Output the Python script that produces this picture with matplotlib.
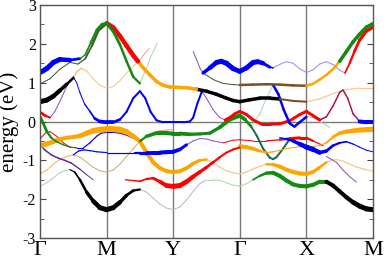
import matplotlib
matplotlib.use("Agg")
import matplotlib.pyplot as plt
from matplotlib.collections import LineCollection

plt.rcParams['font.family'] = ['Liberation Serif', 'DejaVu Serif']
plt.rcParams['axes.unicode_minus'] = False

# high-symmetry points along the path
kpoint_labels = ['Γ', 'M', 'Y', 'Γ', 'X', 'M']
kpoint_pos = [0, 1, 2, 3, 4, 5]

# ---- band pieces: k (path units), E (eV) ----
# upper bands
k_gm_blue_top = [0, 0.1, 0.2, 0.3, 0.45, 0.6]
e_gm_blue_top = [1.26, 1.36, 1.52, 1.6, 1.58, 1.62]
k_gm_green_top = [0.6, 0.68, 0.76, 0.85, 0.93, 1.0, 1.1, 1.2, 1.3, 1.4, 1.5]
e_gm_green_top = [1.62, 1.72, 2.02, 2.35, 2.5, 2.53, 2.32, 1.98, 1.55, 1.15, 0.98]
k_my_green_fade = [1.5, 1.58, 1.66, 1.76]
e_my_green_fade = [0.98, 1.3, 1.65, 2.02]
k_gm_dkgreen = [0, 0.15, 0.3, 0.45, 0.57, 0.68, 0.78, 0.88, 1.0]
e_gm_dkgreen = [0.97, 1.1, 1.35, 1.52, 1.48, 1.62, 1.95, 2.35, 2.53]
k_my_red_top = [1.0, 1.1, 1.2, 1.3, 1.4, 1.47]
e_my_red_top = [2.53, 2.42, 2.2, 1.95, 1.7, 1.55]
k_my_orange = [1.47, 1.55, 1.65, 1.75, 1.85, 1.95, 2.05, 2.2, 2.35]
e_my_orange = [1.55, 1.38, 1.2, 1.03, 0.93, 0.89, 0.88, 0.87, 0.83]
k_yg_black = [2.35, 2.5, 2.65, 2.8, 2.9, 3.0, 3.15, 3.3, 3.45, 3.6]
e_yg_black = [0.83, 0.78, 0.7, 0.6, 0.54, 0.51, 0.56, 0.6, 0.6, 0.58]
k_gx_brown = [3.6, 3.8, 4.0]
e_gx_brown = [0.58, 0.53, 0.51]
k_xm_paleorange = [4.0, 4.2, 4.4, 4.6, 4.8, 5.0]
e_xm_paleorange = [0.51, 0.58, 0.72, 0.82, 0.86, 0.86]
k_gm_black = [0, 0.1, 0.2, 0.3, 0.4, 0.5]
e_gm_black = [0.51, 0.55, 0.65, 0.8, 0.96, 1.12]
k_gm_paleorange = [0.5, 0.56, 0.62, 0.7, 0.8, 0.9, 1.0, 1.1, 1.2, 1.3, 1.4, 1.48]
e_gm_paleorange = [1.12, 1.3, 1.37, 1.3, 1.1, 0.93, 0.86, 0.9, 1.05, 1.25, 1.42, 1.55]
k_my_red_fade = [1.48, 1.56, 1.64]
e_my_red_fade = [1.55, 1.72, 1.88]
k_gm_red_low = [0, 0.08, 0.15]
e_gm_red_low = [0.24, 0.15, 0.1]
k_gm_purple = [0.15, 0.22, 0.31, 0.4, 0.5]
e_gm_purple = [0.1, 0.25, 0.56, 0.9, 1.15]
k_gm_blue_mid = [0.5, 0.55, 0.6, 0.67, 0.75, 0.82, 0.9, 1.0, 1.1, 1.2]
e_gm_blue_mid = [1.15, 1.0, 0.74, 0.45, 0.26, 0.08, 0.0, -0.02, -0.02, 0.05]
k_my_blue = [1.2, 1.3, 1.4, 1.5, 1.58, 1.66, 1.75, 1.85, 2.0, 2.15, 2.25, 2.3, 2.36, 2.43]
e_my_blue = [0.05, 0.25, 0.6, 0.78, 0.6, 0.25, 0.03, -0.02, -0.02, -0.02, 0.0, 0.1, 0.45, 0.77]
k_yg_purple = [2.43, 2.5, 2.6, 2.7, 2.78]
e_yg_purple = [0.77, 0.6, 0.3, 0.1, 0.04]
k_gx_red = [2.78, 2.85, 2.93, 3.0, 3.1, 3.2, 3.33, 3.45, 3.6, 3.75, 3.9, 4.0, 4.1, 4.2]
e_gx_red = [0.04, 0.1, 0.2, 0.26, 0.18, 0.04, -0.07, -0.07, -0.06, 0.02, 0.18, 0.26, 0.15, 0.04]
k_xm_crimson = [4.2, 4.3, 4.4, 4.5, 4.55, 4.62, 4.7, 4.8]
e_xm_crimson = [0.04, 0.12, 0.4, 0.75, 0.81, 0.6, 0.2, 0.0]
k_xm_blue = [4.8, 4.9, 5.0]
e_xm_blue = [0.0, -0.02, -0.02]
k_mg_green = [1.5, 1.6, 1.75, 1.9, 2.0, 2.1, 2.25, 2.4, 2.55, 2.7, 2.85, 3.0, 3.08, 3.17]
e_mg_green = [-0.51, -0.38, -0.3, -0.3, -0.31, -0.31, -0.33, -0.32, -0.3, -0.15, 0.05, 0.15, 0.05, -0.13]
k_gx_palegreen = [3.17, 3.3, 3.4, 3.5]
e_gx_palegreen = [-0.13, 0.2, 0.6, 0.94]
k_gx_blue = [3.5, 3.58, 3.66, 3.75, 3.82, 3.9, 4.0]
e_gx_blue = [0.94, 0.7, 0.3, -0.05, -0.13, -0.02, 0.12]
k_xm_palegreen = [4.0, 4.1, 4.2, 4.35]
e_xm_palegreen = [0.12, 0.1, 0.0, -0.15]
k_yg_purple_top = [2.3, 2.35, 2.4, 2.45]
e_yg_purple_top = [1.8, 1.6, 1.38, 1.25]
k_gx_blue_wave = [2.45, 2.55, 2.65, 2.72, 2.8, 2.9, 3.0, 3.1, 3.2, 3.27, 3.35, 3.45, 3.5]
e_gx_blue_wave = [1.25, 1.38, 1.52, 1.55, 1.5, 1.36, 1.29, 1.38, 1.52, 1.54, 1.5, 1.4, 1.38]
k_xm_paleblue = [3.5, 3.6, 3.7, 3.8, 3.9, 4.0, 4.1, 4.2, 4.3, 4.4, 4.5, 4.58]
e_xm_paleblue = [1.38, 1.47, 1.54, 1.5, 1.36, 1.26, 1.33, 1.48, 1.54, 1.47, 1.32, 1.25]
k_xm_red_top = [4.58, 4.65, 4.72, 4.8, 4.9, 5.0]
e_xm_red_top = [1.25, 1.5, 1.8, 2.1, 2.33, 2.43]
k_yg_dkgreen = [2.45, 2.6, 2.75, 2.9, 3.0]
e_yg_dkgreen = [1.25, 1.08, 0.98, 0.95, 0.94]
k_gx_brown_top = [3.0, 3.2, 3.4, 3.6, 3.8, 4.0]
e_gx_brown_top = [0.94, 0.95, 0.96, 0.95, 0.93, 0.92]
k_xm_orange_top = [4.0, 4.1, 4.2, 4.3, 4.4, 4.5]
e_xm_orange_top = [0.92, 0.97, 1.08, 1.2, 1.35, 1.55]
k_xm_green_top = [4.5, 4.6, 4.7, 4.8, 4.9, 5.0]
e_xm_green_top = [1.55, 1.8, 2.05, 2.25, 2.43, 2.52]

# lower bands
k_gm_green_low = [0, 0.05, 0.1, 0.17, 0.25, 0.35, 0.45, 0.55]
e_gm_green_low = [0.12, -0.05, -0.25, -0.42, -0.52, -0.6, -0.66, -0.68]
k_gm_purple_low = [0, 0.07, 0.17, 0.27, 0.37, 0.47, 0.6, 0.7, 0.8]
e_gm_purple_low = [-0.6, -0.73, -0.86, -0.94, -1.0, -1.07, -1.23, -1.37, -1.5]
k_gm_red_thin = [0, 0.08, 0.15, 0.25, 0.35, 0.45, 0.55]
e_gm_red_thin = [-0.45, -0.3, -0.26, -0.38, -0.55, -0.66, -0.68]
k_mm_blue_thin = [0.55, 0.65, 0.75, 0.85, 0.92, 1.0, 1.1, 1.2, 1.3, 1.4, 1.5]
e_mm_blue_thin = [-0.68, -0.68, -0.55, -0.38, -0.3, -0.28, -0.28, -0.3, -0.35, -0.43, -0.51]
k_gm_orange_thin = [0, 0.1, 0.2, 0.3, 0.4, 0.5]
e_gm_orange_thin = [-1.35, -1.25, -1.1, -0.97, -0.9, -0.86]
k_gm_tan = [0.5, 0.6, 0.7, 0.8, 0.9, 1.0, 1.1, 1.2, 1.3, 1.4, 1.5, 1.6, 1.7, 1.8, 1.9, 2.0]
e_gm_tan = [-0.86, -0.92, -1.05, -1.18, -1.27, -1.3, -1.25, -1.1, -0.9, -0.7, -0.51, -0.38, -0.28, -0.24, -0.22, -0.21]
k_my_blue_low = [0.5, 0.58, 0.66, 0.75, 0.85, 1.0, 1.15, 1.3, 1.42]
e_my_blue_low = [-0.86, -0.76, -0.73, -0.75, -0.78, -0.8, -0.8, -0.8, -0.8]
k_yg_blue_thick = [1.42, 1.5, 1.6, 1.7, 1.8, 1.9, 2.0, 2.1, 2.2]
e_yg_blue_thick = [-0.8, -0.8, -0.8, -0.8, -0.8, -0.79, -0.78, -0.72, -0.6]
k_yg_purple_low = [2.2, 2.3, 2.4, 2.5, 2.6, 2.75]
e_yg_purple_low = [-0.6, -0.5, -0.44, -0.45, -0.5, -0.55]
k_gx_red_low = [2.75, 2.9, 3.0, 3.2, 3.4, 3.6, 3.75, 3.9, 4.0, 4.1, 4.25]
e_gx_red_low = [-0.55, -0.48, -0.47, -0.5, -0.5, -0.47, -0.44, -0.42, -0.42, -0.5, -0.62]
k_gm_orange_thick = [0, 0.1, 0.2, 0.3, 0.4, 0.5, 0.6, 0.7, 0.8, 0.9, 1.0, 1.1, 1.2, 1.3,
                     1.4, 1.5, 1.6, 1.7, 1.8, 1.9, 2.0, 2.1, 2.2, 2.3, 2.4, 2.5]
e_gm_orange_thick = [-0.62, -0.58, -0.52, -0.46, -0.42, -0.4, -0.37, -0.3, -0.24, -0.21, -0.2, -0.2, -0.21, -0.27,
                     -0.38, -0.51, -0.8, -1.05, -1.2, -1.28, -1.3, -1.28, -1.2, -1.08, -1.0, -0.98]
k_yg_orange_pale = [2.5, 2.6, 2.7, 2.8, 2.9, 3.0, 3.1, 3.2, 3.3, 3.4]
e_yg_orange_pale = [-0.98, -1.05, -1.18, -1.27, -1.32, -1.35, -1.3, -1.22, -1.15, -1.1]
k_gx_orange_thick = [3.4, 3.5, 3.6, 3.7, 3.8, 3.9, 4.0, 4.1, 4.2, 4.3]
e_gx_orange_thick = [-1.1, -1.11, -1.16, -1.24, -1.3, -1.34, -1.35, -1.3, -1.18, -1.05]
k_xm_orange_pale = [4.3, 4.4, 4.45, 4.55, 4.65, 4.75, 4.85, 5.0]
e_xm_orange_pale = [-1.05, -0.99, -0.98, -1.02, -1.1, -1.17, -1.22, -1.28]
k_xm_purple = [4.3, 4.35, 4.45, 4.55, 4.65, 4.75]
e_xm_purple = [-0.9, -0.95, -1.05, -1.25, -1.42, -1.56]
k_gx_orange_mid = [3.0, 3.1, 3.2, 3.3, 3.4, 3.5, 3.6, 3.7, 3.8, 3.9, 4.0]
e_gx_orange_mid = [-0.64, -0.66, -0.7, -0.76, -0.8, -0.78, -0.74, -0.7, -0.67, -0.65, -0.64]
k_xm_orange_mid = [4.0, 4.1, 4.2, 4.3, 4.4, 4.5, 4.6, 4.7, 4.8, 4.9, 5.0]
e_xm_orange_mid = [-0.64, -0.64, -0.62, -0.55, -0.4, -0.3, -0.26, -0.24, -0.22, -0.21, -0.2]
k_my_red_thick = [1.28, 1.4, 1.5, 1.6, 1.7, 1.8, 1.9, 2.0, 2.1, 2.2, 2.3, 2.4, 2.5, 2.6, 2.7, 2.8, 2.9, 3.0]
e_my_red_thick = [-1.5, -1.52, -1.54, -1.48, -1.46, -1.55, -1.65, -1.67, -1.65, -1.55, -1.42, -1.3,
                  -1.18, -1.05, -0.92, -0.8, -0.72, -0.67]
k_gm_palegreen = [0, 0.1, 0.2, 0.3, 0.38, 0.45]
e_gm_palegreen = [-1.67, -1.58, -1.45, -1.32, -1.26, -1.24]
k_gm_black_low = [0.45, 0.52, 0.6, 0.7, 0.8, 0.9, 1.0, 1.1, 1.2, 1.3, 1.4, 1.5]
e_gm_black_low = [-1.24, -1.3, -1.5, -1.82, -2.05, -2.22, -2.27, -2.22, -2.08, -1.9, -1.78, -1.75]
k_yg_gray = [1.5, 1.6, 1.7, 1.8, 1.9, 2.0, 2.1, 2.2, 2.3, 2.4, 2.5]
e_yg_gray = [-1.75, -1.82, -1.98, -2.12, -2.23, -2.27, -2.2, -2.02, -1.8, -1.6, -1.5]
k_yg_palegreen = [2.5, 2.6, 2.7, 2.8, 2.9, 3.0, 3.1, 3.2]
e_yg_palegreen = [-1.5, -1.5, -1.52, -1.58, -1.64, -1.67, -1.6, -1.5]
k_gx_green_low = [3.2, 3.3, 3.4, 3.5, 3.6, 3.7, 3.8, 3.9, 4.0, 4.1, 4.2, 4.3]
e_gx_green_low = [-1.5, -1.4, -1.33, -1.32, -1.4, -1.52, -1.62, -1.66, -1.67, -1.63, -1.55, -1.55]
k_xm_black_low = [4.3, 4.4, 4.5, 4.6, 4.7, 4.8, 4.9, 5.0]
e_xm_black_low = [-1.55, -1.65, -1.8, -1.95, -2.08, -2.18, -2.25, -2.27]
k_gx_teal = [3.17, 3.25, 3.35, 3.45, 3.5, 3.55, 3.65, 3.75]
e_gx_teal = [-0.13, -0.35, -0.7, -0.93, -0.97, -0.92, -0.7, -0.45]
k_xm_blue_thick = [3.6, 3.7, 3.8, 3.9, 4.0, 4.1, 4.2, 4.3, 4.4, 4.5, 4.6, 4.7, 4.8, 4.9, 5.0]
e_xm_blue_thick = [-0.42, -0.45, -0.5, -0.58, -0.66, -0.72, -0.8, -0.76, -0.62, -0.55, -0.52, -0.58, -0.66, -0.74, -0.78]

# ---- styles ----
BLUE = '#0000ff'
RED = '#ff0000'
GREEN = '#138a13'
ORANGE = '#ffa500'
BLACK = '#000000'
PURPLE = '#8a50c0'
DKPURPLE = '#5a2aa0'
PALE_ORANGE = '#f8c888'
PALE_GREEN = '#a8d8a8'
PALE_BLUE = '#9090ff'
TAN = '#d0a878'
GRAY = '#bbbbbb'
DKGREEN = '#3c5c28'
BROWN = '#7a5020'
CRIMSON = '#b01050'
TEAL = '#1a6a5a'

# (k, E, colour, width in px - scalar or one per point)
pieces = [
    (k_gm_palegreen, e_gm_palegreen, PALE_GREEN, 1),
    (k_yg_gray, e_yg_gray, GRAY, 1),
    (k_yg_palegreen, e_yg_palegreen, PALE_GREEN, 1),
    (k_yg_orange_pale, e_yg_orange_pale, PALE_ORANGE, 1.2),
    (k_xm_orange_pale, e_xm_orange_pale, PALE_ORANGE, 1.2),
    (k_xm_purple, e_xm_purple, PURPLE, 1),
    (k_gm_orange_thin, e_gm_orange_thin, '#f5b850', 1),
    (k_gm_tan, e_gm_tan, TAN, 1),
    (k_xm_paleorange, e_xm_paleorange, PALE_ORANGE, 1.2),
    (k_gm_paleorange, e_gm_paleorange, PALE_ORANGE, [2, 1.5, 1.5, 1.2, 1, 1, 1, 1, 1, 1, 1, 1]),
    (k_my_red_fade, e_my_red_fade, '#f4a0a0', 1),
    (k_my_green_fade, e_my_green_fade, PALE_GREEN, 1),
    (k_xm_paleblue, e_xm_paleblue, PALE_BLUE, 1),
    (k_gx_palegreen, e_gx_palegreen, PALE_GREEN, 1),
    (k_xm_palegreen, e_xm_palegreen, PALE_GREEN, 1),
    (k_yg_purple_top, e_yg_purple_top, PURPLE, 1),
    (k_yg_dkgreen, e_yg_dkgreen, DKGREEN, 1),
    (k_gm_purple, e_gm_purple, PURPLE, 1),
    (k_yg_purple, e_yg_purple, PURPLE, 1),
    (k_yg_purple_low, e_yg_purple_low, PURPLE, 1),
    (k_gm_purple_low, e_gm_purple_low, DKPURPLE, [1.5, 1.5, 1.5, 1.5, 1.5, 1.5, 1.2, 1, 0.8]),
    (k_gm_red_thin, e_gm_red_thin, RED, 1),
    (k_mm_blue_thin, e_mm_blue_thin, BLUE, 1.2),
    (k_my_blue_low, e_my_blue_low, BLUE, 1.2),
    (k_gx_red_low, e_gx_red_low, RED, [1, 1, 1, 1, 1, 1.5, 3, 3, 3, 1.5, 1]),
    (k_gx_teal, e_gx_teal, TEAL, 2),
    (k_gx_orange_mid, e_gx_orange_mid, ORANGE, [4, 4, 3.5, 3, 1.5, 1, 1, 1, 1, 1, 1]),
    (k_xm_orange_mid, e_xm_orange_mid, ORANGE, [1, 1, 1, 1.5, 2.5, 3.5, 4, 4.5, 5, 5, 5]),
    (k_xm_blue_thick, e_xm_blue_thick, BLUE, [1, 2, 3, 4, 5, 5, 4, 3, 2.5, 2, 1.5, 1.2, 1, 1, 1]),
    (k_gx_orange_thick, e_gx_orange_thick, ORANGE, [2, 3, 4, 4, 4, 4, 4, 3.5, 3, 2]),
    (k_gm_orange_thick, e_gm_orange_thick, ORANGE,
     [5, 5, 4.5, 4, 4, 4, 4.5, 5, 5.5, 6, 6, 6, 6, 5.5, 4.5, 4, 4, 4, 4, 4, 4, 4, 3.5, 3.5, 3, 2]),
    (k_yg_blue_thick, e_yg_blue_thick, BLUE, [1.5, 3, 3.5, 4, 4, 4, 4, 3.5, 2.5]),
    (k_my_red_thick, e_my_red_thick, RED,
     [1, 1.5, 1.5, 2, 2.5, 3.5, 4.5, 5, 5, 4.5, 4, 3.5, 3, 2.5, 2, 2, 2, 2]),
    (k_gm_black_low, e_gm_black_low, BLACK, [1, 1.5, 2, 3, 4, 5, 5, 5, 4, 3, 2.5, 2]),
    (k_gx_green_low, e_gx_green_low, GREEN, [1.5, 2, 3, 4, 4, 4, 4, 4, 4, 4, 4, 4]),
    (k_xm_black_low, e_xm_black_low, BLACK, [4, 4, 4, 4, 4.5, 5, 5, 5]),
    (k_gm_green_low, e_gm_green_low, GREEN, [3, 3, 2.5, 2, 1.5, 1.5, 1, 1]),
    (k_mg_green, e_mg_green, GREEN, [1.5, 3, 4, 4, 4, 4, 3.5, 3, 3, 3.5, 4, 4, 3.5, 2]),
    (k_gx_red, e_gx_red, RED, 3),
    (k_xm_crimson, e_xm_crimson, CRIMSON, 1.5),
    (k_gx_blue, e_gx_blue, BLUE, 2.5),
    (k_my_blue, e_my_blue, BLUE, 2),
    (k_gm_blue_mid, e_gm_blue_mid, BLUE, [1, 1, 1, 1.2, 1.5, 2, 3.5, 4, 3.5, 2]),
    (k_xm_blue, e_xm_blue, BLUE, 4),
    (k_gm_red_low, e_gm_red_low, RED, [3, 2.5, 1.5]),
    (k_gm_dkgreen, e_gm_dkgreen, DKGREEN, [1, 1, 1, 1, 1, 1.5, 2, 2.5, 3]),
    (k_gm_black, e_gm_black, BLACK, [5, 5, 4.5, 4, 3, 2]),
    (k_yg_black, e_yg_black, BLACK, 3.5),
    (k_gx_brown, e_gx_brown, BROWN, 2),
    (k_gx_brown_top, e_gx_brown_top, BROWN, 2.5),
    (k_my_orange, e_my_orange, ORANGE, 3.5),
    (k_xm_orange_top, e_xm_orange_top, ORANGE, 2.5),
    (k_gx_blue_wave, e_gx_blue_wave, BLUE, [3, 4, 5, 5, 5, 5, 4.5, 5, 5, 5, 4, 2, 1]),
    (k_gm_blue_top, e_gm_blue_top, BLUE, [5, 5, 5, 5, 4, 1.5]),
    (k_my_red_top, e_my_red_top, RED, 4.5),
    (k_xm_red_top, e_xm_red_top, RED, [1.5, 2, 2.5, 3, 3.5, 3.5]),
    (k_gm_green_top, e_gm_green_top, GREEN, [1, 1.5, 2, 2.5, 3, 3, 3, 2.5, 2.5, 2.5, 2]),
    (k_xm_green_top, e_xm_green_top, GREEN, 3.5),
]

PX = 72 / 100  # points per pixel at dpi 100

fig = plt.figure(figsize=(3.9, 2.67), dpi=100)
ax = fig.add_axes([40 / 390, 1 - 238 / 267, 333 / 390, 233 / 267])

# guide lines
for x in kpoint_pos[1:-1]:
    ax.axvline(x, color='#7a7a7a', lw=1.0, zorder=1)
ax.axhline(0, color='#7a7a7a', lw=1.0, zorder=1)

for k, e, col, w in pieces:
    segs = [[(k[i], e[i]), (k[i + 1], e[i + 1])] for i in range(len(k) - 1)]
    if isinstance(w, (int, float)):
        widths = [w * PX] * len(segs)
    else:
        widths = [(w[i] + w[i + 1]) / 2 * PX for i in range(len(segs))]
    lc = LineCollection(segs, colors=col, linewidths=widths, capstyle='round', zorder=2)
    ax.add_collection(lc)

ax.set_xlim(0, 5)
ax.set_ylim(-3, 3)
ax.set_xticks(kpoint_pos)
ax.set_xticklabels(kpoint_labels, fontsize=16)
ax.set_yticks([-3, -2, -1, 0, 1, 2, 3])
ax.set_yticks([-2.5, -1.5, -0.5, 0.5, 1.5, 2.5], minor=True)
ax.tick_params(axis='x', length=0, pad=2)
ax.tick_params(axis='y', which='major', direction='in', length=4, labelsize=11.5,
               right=True, color='#444444', pad=3)
ax.tick_params(axis='y', which='minor', direction='in', length=3, right=True, color='#444444')
ax.set_ylabel('energy (eV)', fontsize=15)
ax.yaxis.set_label_coords(-0.062, 0.5)
for s in ax.spines.values():
    s.set_color('#555555')
    s.set_linewidth(1.0)

fig.savefig('out.png', dpi=100)
